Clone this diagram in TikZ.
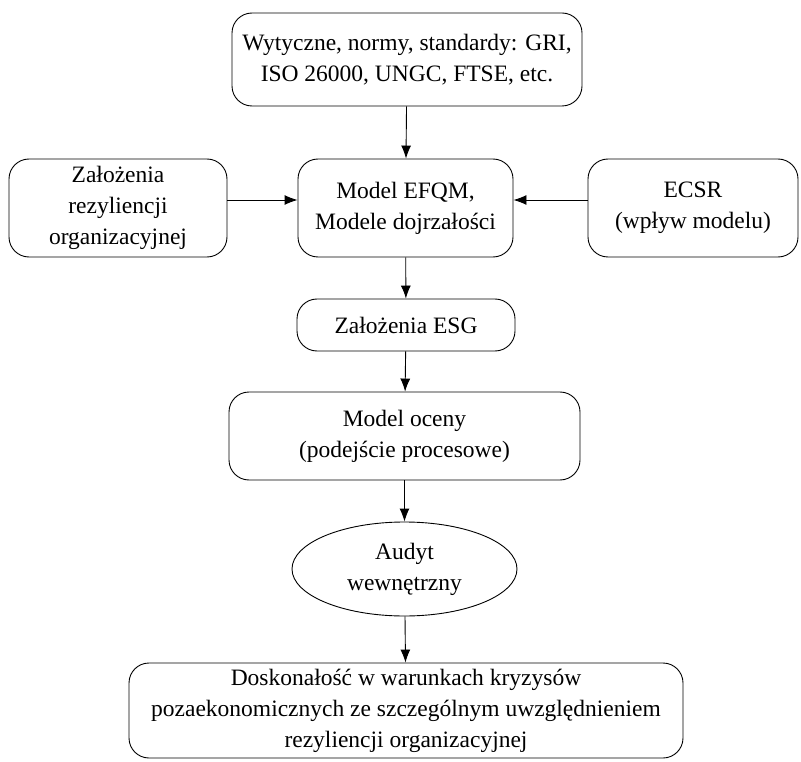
\documentclass[tikz,border=0pt]{standalone}
\usepackage{fontspec}
\setmainfont{Liberation Serif}
\usetikzlibrary{shapes.geometric, arrows.meta}

\begin{document}
\begin{tikzpicture} [x=1pt, y=-1pt, line width=0.9pt,
  box/.style={draw, rounded corners=20pt, align=center, inner sep=0pt,
    font=\fontsize{23.5}{31}\selectfont},
  oval/.style={draw, ellipse, align=center, inner sep=0pt,
    font=\fontsize{23.5}{31}\selectfont},
  arr/.style={-{Latex[length=13pt, width=10pt]}}]%Audit flow
\useasboundingbox (0,0) rectangle (801,762);
  \node[box, minimum width=350pt, minimum height=93pt] (wytyczne) at (407,59.5)
    {Wytyczne, normy, standardy: GRI,\\ ISO 26000, UNGC, FTSE, etc.};
  \node[box, minimum width=218pt, minimum height=98pt] (rezyl) at (118,208)
    {Założenia\\ rezyliencji\\ organizacyjnej};
  \node[box, minimum width=215pt, minimum height=98pt] (efqm) at (405.5,208)
    {Model EFQM,\\ Modele dojrzałości};
  \node[box, minimum width=210pt, minimum height=98pt] (ecsr) at (693,208)
    {ECSR\\ (wpływ modelu)};
%  \node[box] (esg) at (406,325) {Założenia ESG};
  \node[box, minimum width=218pt, minimum height=52pt] (esg) at (406,325)
    {Założenia ESG};
  \node[box, minimum width=351pt, minimum height=88pt] (ocena) at (404.5,436)
    {Model oceny\\ (podejście procesowe)};
  \node[oval, minimum width=225pt, minimum height=94pt] (audyt) at (404.5,569)
    {Audyt\\ wewnętrzny};
  \node[box, minimum width=554pt, minimum height=95pt] (wynik) at (406,710.5)
    {Doskonałość w warunkach kryzysów\\ pozaekonomicznych ze szczególnym uwzględnieniem\\ rezyliencji organizacyjnej};
% arrows
\draw [arr] (wytyczne) -- (efqm);
\draw [arr] ([yshift=8pt]rezyl.east) -- ([yshift=8pt]efqm.west);
\draw [arr] ([yshift=8pt]ecsr.west) -- ([yshift=8pt]efqm.east);
\draw [arr] (efqm) -- (esg);
\draw [arr] (esg) -- (ocena);
\draw [arr] (ocena) -- (audyt);
\draw [arr] (audyt) -- (wynik);
 \end{tikzpicture}
\end{document}
